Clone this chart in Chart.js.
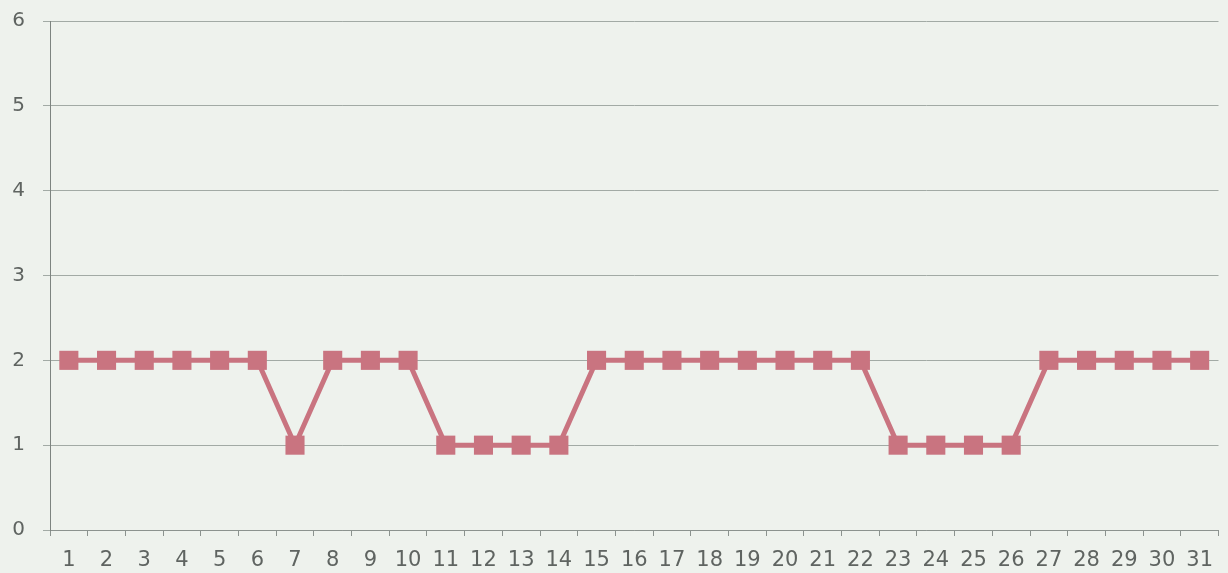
<!DOCTYPE html>
<html>
<head>
<meta charset="utf-8">
<script src="https://cdn.jsdelivr.net/npm/chart.js@4"></script>
<style>
  html, body { margin: 0; padding: 0; overflow: hidden; background: #eef2ed; }
  #wrap { width: 1232px; height: 573px; }
</style>
</head>
<body>
<div id="wrap"><canvas id="chart"></canvas></div>
<script>
var days = [];
for (var d = 1; d <= 31; d++) { days.push(String(d)); }
var values = [2, 2, 2, 2, 2, 2, 1, 2, 2, 2,
              1, 1, 1, 1, 2, 2, 2, 2, 2, 2,
              2, 2, 1, 1, 1, 1, 2, 2, 2, 2, 2];
var yTicks = [0, 1, 2, 3, 4, 5, 6];

var lineColor = '#c97480';
var gridColor = '#a2aaa5';
var textColor = '#5f6461';

new Chart(document.getElementById('chart'), {
  type: 'line',
  data: {
    labels: days,
    datasets: [{
      data: values,
      borderColor: lineColor,
      backgroundColor: lineColor,
      borderWidth: 5,
      pointStyle: 'rect',
      pointRadius: 13.5,
      pointHoverRadius: 13.5,
      pointBorderWidth: 0,
      tension: 0,
      fill: false,
      clip: false
    }]
  },
  options: {
    responsive: true,
    maintainAspectRatio: false,
    animation: false,
    layout: { padding: { top: 21, right: 0, bottom: 0, left: 0 } },
    plugins: {
      legend: { display: false },
      tooltip: { enabled: false }
    },
    scales: {
      x: {
        offset: true,
        grid: {
          offset: true,
          drawOnChartArea: false,
          drawTicks: true,
          tickLength: 6,
          color: '#8c938f'
        },
        border: { color: '#8c938f', width: 1 },
        ticks: {
          color: textColor,
          padding: 12,
          maxRotation: 0,
          autoSkip: false,
          font: { family: 'DejaVu Sans', size: 21 }
        },
        afterFit: function (scale) { scale.height = 43; }
      },
      y: {
        min: 0,
        max: 6,
        afterBuildTicks: function (scale) {
          scale.ticks = yTicks.map(function (v) { return { value: v }; });
        },
        grid: {
          color: gridColor,
          lineWidth: 1,
          tickLength: 7,
          drawTicks: true
        },
        border: { color: '#7d8480', width: 1 },
        ticks: {
          color: textColor,
          padding: 18,
          font: { family: 'DejaVu Sans', size: 20 }
        },
        afterFit: function (scale) {
          scale.width = 50;
          scale.paddingTop = 0;
          scale.paddingBottom = 0;
        }
      }
    }
  }
});
</script>
</body>
</html>
